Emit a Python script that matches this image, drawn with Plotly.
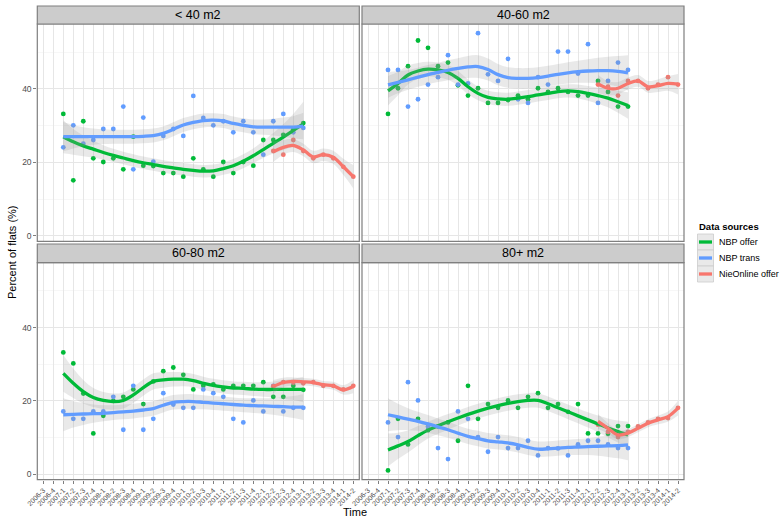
import plotly.graph_objects as go

# ---------------- data ----------------
categories = ["2006-3", "2006-4",
              "2007-1", "2007-2", "2007-3", "2007-4",
              "2008-1", "2008-2", "2008-3", "2008-4",
              "2009-1", "2009-2", "2009-3", "2009-4",
              "2010-1", "2010-2", "2010-3", "2010-4",
              "2011-1", "2011-2", "2011-3", "2011-4",
              "2012-1", "2012-2", "2012-3", "2012-4",
              "2013-1", "2013-2", "2013-3", "2013-4",
              "2014-1", "2014-2"]
nbp_periods = categories[2:27]    # 2007-1 .. 2013-1
nie_periods = categories[23:32]   # 2012-2 .. 2014-2

panel_titles = ["< 40 m2", "40-60 m2", "60-80 m2", "80+ m2"]
series_names = ["NBP offer", "NBP trans", "NieOnline offer"]
y_ticks = [0, 20, 40]

# points (percent of flats)
offer_lt40 = [33.2, 15.1, 31.2, 21.1, 20.1, 21.1, 18.1, 27.0, 19.1, 19.0, 17.1, 17.1, 16.1,
              21.1, 18.1, 16.1, 20.1, 17.1, 20.1, 19.1, 26.1, 26.1, 27.5, 29.0, 30.7]
trans_lt40 = [24.1, 30.1, 25.1, 26.1, 29.1, 29.1, 35.2, 18.1, 32.2, 20.2, 27.2, 29.1, 27.2,
              38.1, 32.1, 30.1, 31.2, 28.2, 31.2, 28.2, 22.1, 31.2, 33.2, 28.2, 29.4]
nie_lt40 = [23.1, 22.1, 26.1, 23.1, 21.1, 22.1, 21.1, 18.8, 16.1]

offer_40_60 = [33.2, 40.2, 46.2, 53.2, 51.2, 46.2, 47.2, 41.0, 38.2, 40.2, 36.2, 36.2, 37.0,
               38.2, 37.2, 40.2, 39.2, 40.2, 39.2, 38.2, 38.2, 42.2, 39.2, 35.2, 35.2]
trans_40_60 = [45.2, 45.2, 35.2, 37.2, 41.2, 43.2, 49.2, 41.2, 41.5, 55.2, 44.0, 42.2, 48.2,
               37.2, 36.2, 43.2, 41.2, 50.2, 50.2, 44.2, 52.2, 36.2, 42.2, 47.2, 45.2]
nie_40_60 = [41.2, 40.6, 38.2, 42.2, 42.2, 40.2, 41.2, 43.2, 41.2]

offer_60_80 = [33.2, 30.2, 22.0, 11.1, 15.9, 20.0, 21.1, 23.1, 19.1, 25.3, 28.1, 29.1, 27.1,
               23.1, 24.1, 24.5, 23.1, 24.1, 24.1, 24.1, 25.1, 21.1, 21.1, 24.1, 23.0]
trans_60_80 = [17.1, 15.1, 15.1, 17.1, 17.1, 21.1, 12.1, 24.1, 12.1, 15.1, 22.1, 19.0, 18.1,
               18.1, 23.1, 22.1, 21.1, 15.1, 14.1, 20.1, 17.1, 24.1, 17.1, 18.1, 18.1]
nie_60_80 = [24.0, 25.1, 25.0, 24.8, 25.1, 24.1, 24.1, 23.1, 24.1]

offer_80p = [1.0, 15.1, 8.1, 15.1, 12.0, 13.0, 14.1, 9.1, 24.1, 15.1, 19.1, 18.1, 20.1,
             18.1, 21.1, 22.1, 18.1, 19.1, 17.0, 19.1, 11.1, 11.1, 11.0, 13.1, 13.1]
trans_80p = [14.1, 10.1, 25.1, 20.1, 13.0, 7.1, 4.1, 17.1, 15.1, 10.1, 6.1, 10.1, 7.1,
             7.1, 9.1, 5.1, 7.1, 7.0, 5.1, 8.1, 9.1, 9.1, 8.1, 7.1, 7.1]
nie_80p = [13.5, 11.5, 10.1, 11.5, 13.0, 14.1, 15.1, 15.3, 18.1]

# smoothed fits
fit_offer_lt40 = [27, 25.6, 24.5, 23.6, 22.7, 21.9, 21.2, 20.5, 19.9, 19.4, 18.9, 18.5, 18.1,
                  17.8, 17.6, 17.7, 18.3, 19.1, 20.3, 21.8, 23.5, 25.2, 26.9, 28.7, 30.5]
fit_trans_lt40 = [27, 27, 27, 27, 27, 27, 27, 27, 27.1, 27.3, 27.9, 29.0, 30.2,
                  30.9, 31.4, 31.5, 31.3, 30.6, 30.1, 29.7, 29.6, 29.6, 29.6, 29.6, 29.9]
fit_nie_lt40 = [22.9, 24.1, 24.6, 23.4, 21.5, 22.1, 21.4, 18.8, 16.1]

fit_offer_40_60 = [39.5, 41.5, 43.8, 44.9, 45.4, 45.2, 44.5, 42.9, 40.6, 38.8, 37.7, 37.3, 37.2,
                   37.5, 37.9, 38.4, 38.8, 39.3, 39.5, 39.3, 38.8, 38.2, 37.5, 36.5, 35.5]
fit_trans_40_60 = [41.1, 41.8, 42.5, 43.2, 43.9, 44.5, 45.1, 45.6, 46.0, 46.1, 45.3, 43.9, 43.1,
                   42.9, 42.9, 43.1, 43.5, 44.0, 44.4, 44.7, 44.9, 45.0, 45.0, 44.8, 44.4]
fit_nie_40_60 = [41.4, 40.2, 40.2, 41.5, 42.2, 40.6, 40.9, 41.5, 41.3]

fit_offer_60_80 = [27.5, 24.8, 22.5, 20.9, 20.1, 19.8, 20.1, 21.6, 23.6, 25.3, 25.7, 25.9, 25.9,
                   25.5, 24.8, 24.2, 23.8, 23.5, 23.4, 23.2, 23.1, 23.1, 23.1, 23.1, 23.1]
fit_trans_60_80 = [16.2, 16.3, 16.4, 16.5, 16.6, 16.8, 17.0, 17.2, 17.5, 17.9, 18.8, 19.6, 19.8,
                   19.8, 19.6, 19.4, 19.2, 19.0, 18.8, 18.7, 18.6, 18.5, 18.4, 18.3, 18.3]
fit_nie_60_80 = [23.9, 25.0, 25.3, 25.2, 25.0, 24.4, 24.1, 23.0, 23.9]

fit_offer_80p = [6.6, 7.7, 8.9, 10.5, 12.0, 13.2, 14.3, 15.3, 16.3, 17.2, 18.0, 18.7, 19.3,
                 19.8, 20.1, 20.1, 19.2, 18.1, 17.0, 15.9, 14.8, 13.7, 12.6, 11.6, 10.7]
fit_trans_80p = [16.2, 15.6, 15.0, 14.4, 13.7, 12.9, 12.1, 11.2, 10.3, 9.7, 9.1, 8.8, 8.5,
                 8.0, 7.3, 6.8, 6.9, 7.1, 7.3, 7.4, 7.5, 7.6, 7.7, 7.8, 8.0]
fit_nie_80p = [14.4, 12.5, 10.7, 11.2, 12.5, 13.9, 14.8, 15.7, 18.0]

# confidence band half-widths
ci_offer_lt40 = [4.5, 3.5, 2.8, 2.3, 2.0, 1.8, 1.7, 1.7, 1.7, 1.7, 1.7, 1.7, 1.7,
                 1.7, 1.7, 1.7, 1.7, 1.8, 1.9, 2.0, 2.3, 2.8, 3.5, 4.5, 6.0]
ci_trans_lt40 = [4.0, 3.2, 2.6, 2.2, 2.0, 1.9, 1.9, 1.9, 1.9, 1.9, 1.9, 1.9, 1.9,
                 1.9, 1.9, 1.9, 1.9, 1.9, 1.9, 2.0, 2.1, 2.3, 2.6, 3.0, 3.6]
ci_nie_lt40 = [2.8, 2.0, 1.8, 1.7, 1.7, 1.7, 1.8, 2.2, 3.2]

ci_offer_40_60 = [4.0, 3.2, 2.6, 2.2, 2.0, 2.0, 2.0, 2.0, 2.0, 1.9, 1.8, 1.8, 1.8,
                  1.8, 1.8, 1.8, 1.8, 1.8, 1.8, 1.9, 2.0, 2.2, 2.5, 3.0, 3.6]
ci_trans_40_60 = [3.5, 3.0, 2.7, 2.6, 2.6, 2.6, 2.7, 2.8, 3.0, 3.1, 3.0, 2.9, 2.8,
                  2.8, 2.8, 2.8, 2.8, 2.8, 2.9, 3.0, 3.2, 3.5, 3.8, 4.2, 4.8]
ci_nie_40_60 = [2.5, 1.9, 1.7, 1.6, 1.6, 1.6, 1.7, 2.0, 2.8]

ci_offer_60_80 = [5.0, 4.0, 3.2, 2.6, 2.3, 2.2, 2.2, 2.2, 2.2, 2.2, 2.1, 2.0, 1.9,
                  1.8, 1.8, 1.8, 1.8, 1.8, 1.8, 1.9, 2.0, 2.2, 2.5, 2.9, 3.5]
ci_trans_60_80 = [4.5, 3.6, 3.0, 2.5, 2.2, 2.0, 2.0, 2.0, 2.0, 2.0, 2.0, 2.0, 2.0,
                  2.0, 1.9, 1.9, 1.9, 1.9, 1.9, 2.0, 2.1, 2.3, 2.6, 3.0, 3.5]
ci_nie_60_80 = [1.8, 1.3, 1.1, 1.0, 1.0, 1.0, 1.1, 1.3, 1.8]

ci_offer_80p = [4.5, 3.6, 3.0, 2.6, 2.3, 2.2, 2.1, 2.0, 2.0, 2.0, 2.0, 2.0, 2.0,
                2.0, 2.0, 2.0, 2.0, 2.0, 2.0, 2.0, 2.1, 2.3, 2.6, 3.0, 3.6]
ci_trans_80p = [4.5, 3.6, 3.0, 2.6, 2.4, 2.3, 2.2, 2.1, 2.1, 2.1, 2.1, 2.1, 2.1,
                2.1, 2.1, 2.1, 2.1, 2.1, 2.1, 2.2, 2.3, 2.6, 3.0, 3.5, 4.2]
ci_nie_80p = [2.0, 1.4, 1.2, 1.1, 1.1, 1.1, 1.2, 1.4, 2.0]

# ---------------- styling ----------------
W, H = 780, 521
colors = ["#00BA38", "#619CFF", "#F8766D"]
band_fill = "rgba(153,153,153,0.22)"
border_col = "#7f7f7f"
grid_col = "#e6e6e6"
minor_col = "#f7f7f7"
FONT = "Liberation Sans, Arial, sans-serif"


def px_x(p):
    return p / W


def px_y(p):
    return 1 - p / H


col_px = [(37.3, 359.3), (362.0, 684.0)]
row_px = [(24.0, 241.3), (262.7, 479.6)]      # panel top/bottom
strip_px = [(6.0, 24.0), (244.0, 262.7)]

panels = [
    (offer_lt40, trans_lt40, nie_lt40, fit_offer_lt40, fit_trans_lt40, fit_nie_lt40,
     ci_offer_lt40, ci_trans_lt40, ci_nie_lt40),
    (offer_40_60, trans_40_60, nie_40_60, fit_offer_40_60, fit_trans_40_60, fit_nie_40_60,
     ci_offer_40_60, ci_trans_40_60, ci_nie_40_60),
    (offer_60_80, trans_60_80, nie_60_80, fit_offer_60_80, fit_trans_60_80, fit_nie_60_80,
     ci_offer_60_80, ci_trans_60_80, ci_nie_60_80),
    (offer_80p, trans_80p, nie_80p, fit_offer_80p, fit_trans_80p, fit_nie_80p,
     ci_offer_80p, ci_trans_80p, ci_nie_80p),
]

fig = go.Figure()
shapes = []
annotations = []

for i, pdata in enumerate(panels):
    r, c = divmod(i, 2)
    k = "" if i == 0 else str(i + 1)
    xa, ya = "x" + k, "y" + k
    pts = pdata[0:3]
    fits = pdata[3:6]
    cis = pdata[6:9]
    xs = [nbp_periods, nbp_periods, nie_periods]
    # points
    for s in range(3):
        fig.add_trace(go.Scatter(
            x=xs[s], y=pts[s], mode="markers", xaxis=xa, yaxis=ya,
            marker=dict(color=colors[s], size=4.8, line=dict(width=0)),
            showlegend=False, hoverinfo="x+y", name=series_names[s]))
    # smooth: ribbon + line per group
    for s in range(3):
        lo = [f - e for f, e in zip(fits[s], cis[s])]
        hi = [f + e for f, e in zip(fits[s], cis[s])]
        fig.add_trace(go.Scatter(
            x=xs[s], y=lo, mode="lines", xaxis=xa, yaxis=ya,
            line=dict(width=0, shape="spline", color="rgba(0,0,0,0)"),
            showlegend=False, hoverinfo="skip"))
        fig.add_trace(go.Scatter(
            x=xs[s], y=hi, mode="lines", xaxis=xa, yaxis=ya, fill="tonexty",
            fillcolor=band_fill,
            line=dict(width=0, shape="spline", color="rgba(0,0,0,0)"),
            showlegend=False, hoverinfo="skip"))
        fig.add_trace(go.Scatter(
            x=xs[s], y=fits[s], mode="lines", xaxis=xa, yaxis=ya,
            line=dict(width=3.3, shape="spline", color=colors[s]),
            showlegend=False, name=series_names[s]))

    x0, x1 = col_px[c]
    yt, yb = row_px[r]
    st, sb = strip_px[r]
    xaxis = dict(
        domain=[px_x(x0), px_x(x1)], anchor=ya, type="category",
        categoryorder="array", categoryarray=categories,
        range=[-0.6, len(categories) - 0.4],
        tickmode="array", tickvals=categories, ticktext=categories,
        showgrid=True, gridcolor=grid_col, gridwidth=1, zeroline=False,
        showline=False, fixedrange=True, automargin=False,
    )
    if r == 1:
        xaxis.update(showticklabels=True, ticks="outside", ticklen=3, tickwidth=1,
                     tickcolor=border_col, tickangle=-45,
                     tickfont=dict(family=FONT, size=7, color="#4d4d4d"))
    else:
        xaxis.update(showticklabels=False, ticks="")
    yaxis = dict(
        domain=[px_y(yb), px_y(yt)], anchor=xa, range=[-1.5, 57.7],
        tickmode="array", tickvals=y_ticks, showgrid=True, gridcolor=grid_col,
        zeroline=False, showline=False, fixedrange=True, automargin=False,
        minor=dict(tickvals=[10, 30, 50], showgrid=True, gridcolor=minor_col, ticks=""),
    )
    if c == 0:
        yaxis.update(showticklabels=True, ticks="outside", ticklen=3, tickwidth=1,
                     tickcolor=border_col,
                     tickfont=dict(family=FONT, size=8.5, color="#4d4d4d"))
    else:
        yaxis.update(showticklabels=False, ticks="")
    fig.layout["xaxis" + k] = xaxis
    fig.layout["yaxis" + k] = yaxis

    # panel border
    shapes.append(dict(type="rect", xref="paper", yref="paper", layer="above",
                       x0=px_x(x0), x1=px_x(x1), y0=px_y(yb), y1=px_y(yt),
                       line=dict(color=border_col, width=1.2), fillcolor="rgba(0,0,0,0)"))
    # strip
    shapes.append(dict(type="rect", xref="paper", yref="paper", layer="above",
                       x0=px_x(x0), x1=px_x(x1), y0=px_y(sb), y1=px_y(st),
                       line=dict(color=border_col, width=1.2), fillcolor="#cccccc"))
    annotations.append(dict(xref="paper", yref="paper", x=px_x((x0 + x1) / 2),
                            y=px_y((st + sb) / 2), text=panel_titles[i], showarrow=False,
                            xanchor="center", yanchor="middle",
                            font=dict(family=FONT, size=12.5, color="black")))

# axis titles
annotations.append(dict(xref="paper", yref="paper", x=px_x(355), y=px_y(512),
                        text="Time", showarrow=False, xanchor="center", yanchor="middle",
                        font=dict(family=FONT, size=11, color="black")))
annotations.append(dict(xref="paper", yref="paper", x=px_x(12), y=px_y(252),
                        text="Percent of flats (%)", showarrow=False, textangle=-90,
                        xanchor="center", yanchor="middle",
                        font=dict(family=FONT, size=11, color="black")))

# legend (drawn manually, ggplot style)
annotations.append(dict(xref="paper", yref="paper", x=px_x(697), y=px_y(226),
                        text="<b>Data sources</b>", showarrow=False, xanchor="left",
                        yanchor="middle",
                        font=dict(family=FONT, size=9.5, color="black")))
key_rows = [242, 258, 274]
for s in range(3):
    yc = key_rows[s]
    shapes.append(dict(type="rect", xref="paper", yref="paper",
                       x0=px_x(697.5), x1=px_x(713.5), y0=px_y(yc + 8), y1=px_y(yc - 8),
                       line=dict(color="#cccccc", width=0.8), fillcolor="#e9e9e9"))
    shapes.append(dict(type="line", xref="paper", yref="paper",
                       x0=px_x(699), x1=px_x(712), y0=px_y(yc), y1=px_y(yc),
                       line=dict(color=colors[s], width=3.3)))
    annotations.append(dict(xref="paper", yref="paper", x=px_x(717), y=px_y(yc),
                            text=series_names[s], showarrow=False, xanchor="left",
                            yanchor="middle",
                            font=dict(family=FONT, size=9, color="black")))

fig.update_layout(
    width=W, height=H, margin=dict(l=0, r=0, t=0, b=0, autoexpand=False),
    paper_bgcolor="white", plot_bgcolor="white",
    shapes=shapes, annotations=annotations, showlegend=False,
    font=dict(family=FONT),
)

fig.write_html("out.html", config={"displayModeBar": False},
               post_script="document.body.style.margin='0';document.body.style.padding='0';")
